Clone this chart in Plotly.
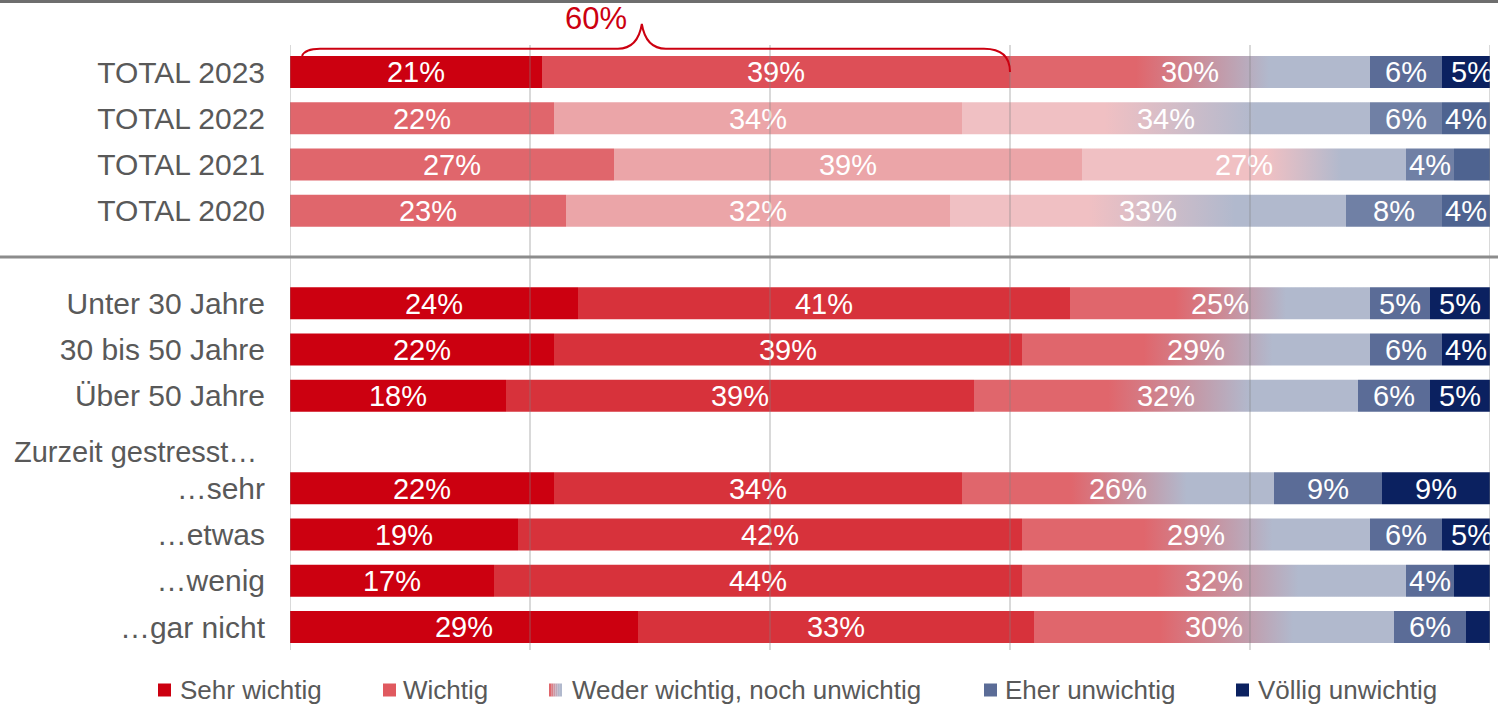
import plotly.graph_objects as go

# ---------------------------------------------------------------- data
rows = ["TOTAL 2023", "TOTAL 2022", "TOTAL 2021", "TOTAL 2020",
        "Unter 30 Jahre", "30 bis 50 Jahre", "Über 50 Jahre",
        "…sehr", "…etwas", "…wenig", "…gar nicht"]
group_heading = "Zurzeit gestresst…"

series_names = ["Sehr wichtig", "Wichtig", "Weder wichtig, noch unwichtig",
                "Eher unwichtig", "Völlig unwichtig"]

sehr_wichtig = [21, 22, 27, 23, 24, 22, 18, 22, 19, 17, 29]
wichtig = [39, 34, 39, 32, 41, 39, 39, 34, 42, 44, 33]
weder = [30, 34, 27, 33, 25, 29, 32, 26, 29, 32, 30]
eher_unwichtig = [6, 6, 4, 8, 5, 6, 6, 9, 6, 4, 6]
voellig_unwichtig = [5, 4, 3, 4, 5, 4, 5, 9, 5, 3, 2]

# ---------------------------------------------------------------- layout constants
W, H = 1498, 709
M_L, M_R, M_T, M_B = 290, 8, 45, 59
PLOT_W = W - M_L - M_R
PLOT_H = H - M_T - M_B
SLOT_PX = 46.25                      # vertical distance between rows
FIRST_ROW_PX = 72                    # centre of first row from the top
slots = [0, 1, 2, 3, 5, 6, 7, 9, 10, 11, 12]
SEPARATOR_SLOT = 4
HEADING_SLOT = 8
BAR_H = 0.69
LABEL_DY = 3 / SLOT_PX               # nudge value labels onto the bar centre

FONT = "Liberation Sans, Arial, sans-serif"
GREY_TXT = "#595959"
RED = "#CC0010"

palettes = {
    "t23": ["#CC0010", "#DD4F57", ("#E0666C", "#B1B9CD"), "#5B6C97", "#0B2160"],
    "old": ["#E0666C", "#EBA5A8", ("#F0C0C3", "#B1B9CD"), "#7080A5", "#4E6390"],
    "grp": ["#CC0010", "#D7323B", ("#E0666C", "#B1B9CD"), "#5B6C97", "#0B2160"],
}
row_palette = ["t23", "old", "old", "old"] + ["grp"] * 7
# where the middle segment fades from red to grey (fractions of the segment)
fade = [(0.35, 0.72)] * len(rows)
fade[2] = (0.57, 0.80)


def px_x(p):
    return (p - M_L) / PLOT_W


def px_y(p):
    return (H - M_B - p) / PLOT_H


values = [sehr_wichtig, wichtig, weder, eher_unwichtig, voellig_unwichtig]
n = len(rows)
starts = []
running = [0] * n
for ser in values:
    starts.append(running[:])
    running = [r + v for r, v in zip(running, ser)]

fig = go.Figure()

# solid segments
for k in (0, 1, 3, 4):
    fig.add_trace(go.Bar(
        y=slots, x=values[k], base=starts[k], orientation="h", width=BAR_H,
        marker=dict(color=[palettes[p][k] for p in row_palette], line_width=0),
        name=series_names[k], hoverinfo="skip", showlegend=False,
    ))

# middle segment with colour fade
for i in range(n):
    x0 = starts[2][i]
    x1 = x0 + weder[i]
    y0, y1 = slots[i] - BAR_H / 2, slots[i] + BAR_H / 2
    c0, c1 = palettes[row_palette[i]][2]
    a, b = fade[i]
    fig.add_trace(go.Scatter(
        x=[x0, x1, x1, x0, x0], y=[y0, y0, y1, y1, y0],
        mode="none", fill="toself",
        fillgradient=dict(type="horizontal", start=x0, stop=x1,
                          colorscale=[[0, c0], [a, c0], [b, c1], [1, c1]]),
        name=series_names[2], hoverinfo="skip", showlegend=False,
    ))

# value labels
lx, ly, lt = [], [], []
for k, ser in enumerate(values):
    for i, v in enumerate(ser):
        if v >= 4:
            lx.append(starts[k][i] + v / 2)
            ly.append(slots[i] + LABEL_DY)
            lt.append(f"{v}%")
fig.add_trace(go.Scatter(
    x=lx, y=ly, text=lt, mode="text", textposition="middle center",
    textfont=dict(family=FONT, size=29, color="white"),
    hoverinfo="skip", showlegend=False, cliponaxis=False,
))

shapes = []
# vertical grid
for g in range(0, 101, 20):
    shapes.append(dict(type="line", xref="x", yref="paper", x0=g, x1=g, y0=0, y1=1,
                       line=dict(color="rgba(128,128,128,0.30)", width=2), layer="above"))
# top rule and group separator
shapes.append(dict(type="line", xref="paper", yref="paper", x0=px_x(0), x1=px_x(W),
                   y0=px_y(1.5), y1=px_y(1.5), line=dict(color="#6E6E6E", width=3)))
shapes.append(dict(type="line", xref="paper", yref="y", x0=px_x(0), x1=px_x(W),
                   y0=SEPARATOR_SLOT, y1=SEPARATOR_SLOT, line=dict(color="#8C8C8C", width=3)))

# brace over the first row spanning "Sehr wichtig" + "Wichtig"
top_two = sehr_wichtig[0] + wichtig[0]
xa, xb = 1.0, top_two
xp = xa + (xb - xa) * 0.48
u = 1 / 12  # one pixel in data units
yh, yt, yl, yr = px_y(48.7), px_y(24), px_y(56), px_y(72)
brace = (f"M {xa},{yl} Q {xa + 3*u},{yh} {xa + 18*u},{yh} "
         f"L {xp - 24*u},{yh} Q {xp - 4*u},{yh} {xp},{yt} "
         f"Q {xp + 4*u},{yh} {xp + 24*u},{yh} "
         f"L {xb - 26*u},{yh} Q {xb},{yh} {xb},{yr}")
shapes.append(dict(type="path", xref="x", yref="paper", path=brace,
                   line=dict(color=RED, width=2)))

annotations = [
    dict(text=f"{top_two}%", xref="x", yref="paper", x=xp, xshift=-46, y=px_y(18),
         showarrow=False, xanchor="center", yanchor="middle",
         font=dict(family=FONT, size=31, color=RED)),
    dict(text=group_heading, xref="paper", yref="y", x=px_x(12), y=HEADING_SLOT, yshift=-10,
         showarrow=False, xanchor="left", yanchor="middle",
         font=dict(family=FONT, size=29, color=GREY_TXT)),
]

# legend
legend_items = [
    (series_names[0], "#CC0010", 158, 178),
    (series_names[1], "#E0595F", 383, 401),
    (series_names[2], None, 549, 570),
    (series_names[3], "#5B6C97", 984, 1003),
    (series_names[4], "#0B2160", 1236, 1256),
]
LEG_Y = 690
SQ = 13
fade_cols = ["#E0666C", "#D98088", "#CD98A4", "#C0A9BA", "#B4B5C8", "#B1B9CD"]
for name, col, sx, tx in legend_items:
    if col is None:
        step = SQ / len(fade_cols)
        for j, fc in enumerate(fade_cols):
            shapes.append(dict(type="rect", xref="paper", yref="paper",
                               x0=px_x(sx + j * step), x1=px_x(sx + (j + 1) * step),
                               y0=px_y(LEG_Y + SQ / 2), y1=px_y(LEG_Y - SQ / 2),
                               fillcolor=fc, line_width=0))
    else:
        shapes.append(dict(type="rect", xref="paper", yref="paper",
                           x0=px_x(sx), x1=px_x(sx + SQ),
                           y0=px_y(LEG_Y + SQ / 2), y1=px_y(LEG_Y - SQ / 2),
                           fillcolor=col, line_width=0))
    annotations.append(dict(text=name, xref="paper", yref="paper", x=px_x(tx), y=px_y(LEG_Y),
                            showarrow=False, xanchor="left", yanchor="middle",
                            font=dict(family=FONT, size=26, color=GREY_TXT)))

y_top = (M_T - FIRST_ROW_PX) / SLOT_PX
y_bottom = y_top + PLOT_H / SLOT_PX

fig.update_layout(
    width=W, height=H,
    margin=dict(l=M_L, r=M_R, t=M_T, b=M_B, pad=0),
    paper_bgcolor="white", plot_bgcolor="white",
    barmode="overlay",
    shapes=shapes, annotations=annotations,
    xaxis=dict(range=[0, 100], showgrid=False, zeroline=False, showticklabels=False,
               showline=False, fixedrange=True),
    yaxis=dict(range=[y_bottom, y_top], tickmode="array", tickvals=slots, ticktext=rows,
               showgrid=False, zeroline=False, showline=False, ticks="",
               ticklabelstandoff=24,
               tickfont=dict(family=FONT, size=30, color=GREY_TXT), fixedrange=True),
    font=dict(family=FONT),
    showlegend=False,
)

fig.write_html("out.html")
